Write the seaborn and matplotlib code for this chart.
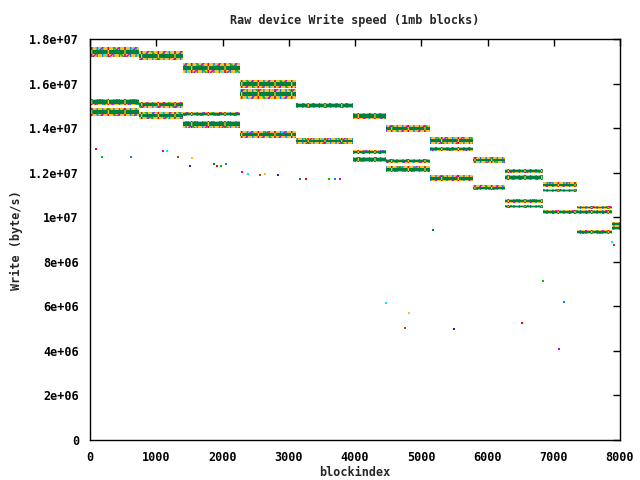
import matplotlib.pyplot as plt
import pandas as pd
import seaborn as sns

# Bands of write-speed readings: block range and level (byte/s)
band_start = [0, 744, 1399, 2270, 2270, 0, 744, 0, 744, 1399, 1399, 3109,
              2270, 3109, 3965, 3965, 3965, 4468, 4468, 4468, 5132, 5132,
              5132, 5776, 5776, 6264, 6264, 6264, 6264, 6842, 6842, 6842,
              7346, 7346, 7875, 7875]
band_end = [744, 1399, 2270, 3109, 3109, 744, 1399, 744, 1399, 2270, 2270, 3965,
            3109, 3965, 4468, 4468, 4468, 5132, 5132, 5132, 5776, 5776,
            5776, 6264, 6264, 6842, 6842, 6842, 6842, 7346, 7346, 7875,
            7875, 7875, 8000, 8000]
band_level = [1.741e7, 1.724e7, 1.670e7, 1.598e7, 1.553e7, 1.517e7, 1.504e7,
              1.472e7, 1.457e7, 1.463e7, 1.418e7, 1.502e7, 1.371e7, 1.342e7,
              1.454e7, 1.293e7, 1.259e7, 1.398e7, 1.252e7, 1.216e7, 1.344e7,
              1.306e7, 1.176e7, 1.257e7, 1.133e7, 1.2075e7, 1.178e7, 1.073e7,
              1.048e7, 1.145e7, 1.120e7, 1.0234e7, 1.0436e7, 9.34e6, 9.70e6,
              9.52e6]
# Vertical scatter of the readings within each band (byte/s)
band_spread = [4.4e5, 4.0e5, 4.4e5, 3.8e5, 4.2e5, 3.0e5, 2.8e5, 3.4e5, 3.4e5,
               1.6e5, 3.2e5, 2.4e5, 3.0e5, 2.4e5, 3.0e5, 2.0e5, 2.0e5, 3.0e5,
               1.6e5, 2.8e5, 3.2e5, 1.8e5, 2.8e5, 2.6e5, 2.0e5, 1.6e5, 2.4e5,
               1.4e5, 1.6e5, 2.2e5, 1.4e5, 1.6e5, 1.3e5, 1.6e5, 1.6e5, 1.6e5]

# Stray single readings
outlier_x = [90, 177, 619, 1097, 1162, 1328, 1540, 1509, 1872, 1917, 1977,
             2053, 2294, 2380, 2566, 2642, 2838, 3170, 3256, 3608, 3698, 3774,
             4472, 4759, 4820, 5499, 5177, 6525, 6842, 7159, 7084, 7884, 7914]
outlier_y = [1.306e7, 1.269e7, 1.269e7, 1.296e7, 1.296e7, 1.269e7, 1.2645e7,
             1.2286e7, 1.2376e7, 1.2286e7, 1.2286e7, 1.2376e7, 1.2017e7,
             1.1927e7, 1.1882e7, 1.1927e7, 1.1882e7, 1.1702e7, 1.1702e7,
             1.1702e7, 1.1702e7, 1.1702e7, 6.136e6, 5.014e6, 5.687e6, 4.969e6,
             9.43e6, 5.238e6, 7.124e6, 6.181e6, 4.071e6, 8.874e6, 8.74e6]

x_ticks = [0, 1000, 2000, 3000, 4000, 5000, 6000, 7000, 8000]
y_ticks = [0, 2e6, 4e6, 6e6, 8e6, 1e7, 1.2e7, 1.4e7, 1.6e7, 1.8e7]

GNUPLOT_COLORS = ["#ff0000", "#00c000", "#0080ff", "#c000ff", "#00eeee",
                  "#c04000", "#ffc020", "#2020c0", "#008040"]


def main() -> None:
    sns.set_style("white")
    plt.rcParams["font.family"] = ["DejaVu Sans Mono"]
    plt.rcParams["font.weight"] = "bold"
    plt.rcParams["hatch.linewidth"] = 0.9

    fig = plt.figure(figsize=(6.4, 4.8), dpi=100)
    ax = fig.add_axes([90 / 640, 40 / 480, 530 / 640, 401 / 480])

    bands = pd.DataFrame({
        "start": band_start,
        "end": band_end,
        "level": band_level,
        "spread": band_spread,
    })

    for row in bands.itertuples():
        xs = [row.start, row.end]
        lo = row.level - row.spread / 2
        hi = row.level + row.spread / 2
        ax.fill_between(xs, lo, hi, color="#ffc020", lw=0)
        for color, hatch in [("#00eeee", "\\\\"), ("#0080ff", "|||"),
                             ("#c000ff", "//"), ("#ff0000", "|"),
                             ("#00c000", "\\")]:
            ax.fill_between(xs, lo, hi, facecolor="none", edgecolor=color,
                            hatch=hatch, lw=0)
        core = row.spread * 0.24
        ax.fill_between(xs, row.level - core, row.level + core,
                        color="#008040", lw=0)
        ax.fill_between(xs, row.level - core, row.level + core,
                        facecolor="none", edgecolor="#ffc020", hatch="|",
                        lw=0)

    outliers = pd.DataFrame({"x": outlier_x, "y": outlier_y})
    outliers["run"] = [i % len(GNUPLOT_COLORS) for i in range(len(outliers))]
    sns.scatterplot(data=outliers, x="x", y="y", hue="run",
                    palette=GNUPLOT_COLORS, marker="s", s=2, linewidth=0,
                    legend=False, ax=ax)

    ax.set_xlim(0, 8000)
    ax.set_ylim(0, 1.8e7)
    ax.set_xticks(x_ticks)
    ax.set_xticklabels([str(t) for t in x_ticks])
    ax.set_yticks(y_ticks)
    ax.set_yticklabels([f"{t:g}" for t in y_ticks])
    ax.tick_params(direction="in", length=5, width=1, top=True, right=True,
                   labelsize=8.5, colors="black")
    ax.tick_params(axis="y", pad=8)
    ax.tick_params(axis="x", pad=8)
    ax.set_xlabel("")
    ax.set_ylabel("")
    for spine in ax.spines.values():
        spine.set_color("black")
        spine.set_linewidth(1)

    fig.text(355 / 640, 1 - 20 / 480, "Raw device Write speed (1mb blocks)",
             ha="center", va="center", fontsize=8.5, fontweight="bold")
    fig.text(355 / 640, 1 - 473 / 480, "blockindex",
             ha="center", va="center", fontsize=8.5, fontweight="bold")
    fig.text(16 / 640, 1 - 240 / 480, "Write (byte/s)", rotation=90,
             ha="center", va="center", fontsize=8.5, fontweight="bold")

    fig.savefig("out.png", dpi=100)
    plt.close(fig)


if __name__ == "__main__":
    main()
